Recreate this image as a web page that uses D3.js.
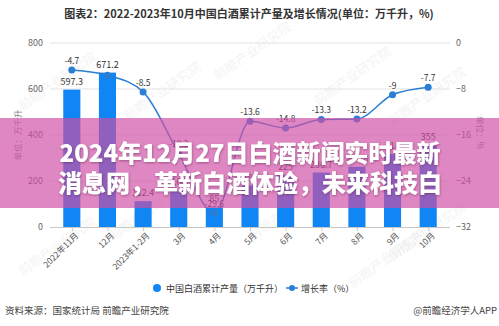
<!DOCTYPE html>
<html>
<head>
<meta charset="utf-8">
<script src="https://cdn.jsdelivr.net/npm/d3@7/dist/d3.min.js"></script>
<style>
  html, body { margin: 0; padding: 0; background: #fff; }
  svg { display: block; font-family: "Noto Sans CJK SC", "Noto Sans", sans-serif; }
</style>
</head>
<body>
<svg id="chart" width="499" height="326"></svg>
<script>
// Cumulative baijiu output (10k kL) and year-on-year growth (%)
const categories = ["2022年11月", "12月", "2023年1-2月", "3月", "4月", "5月", "6月", "7月", "8月", "9月", "10月"];
const output = [597.3, 671.2, 112.4, 160, 85, 180, 225, 236.7, 261.8, 318, 355];
const growth = [-4.7, -5.6, -8.5, -19.2, -29.6, -13.6, -14.8, -13.3, -13.2, -9, -7.7];
const leftTicks = [0, 200, 400, 600, 800];
const rightTicks = [-32, -24, -16, -8, 0];

const title = "图表2：2022-2023年10月中国白酒累计产量及增长情况(单位：万千升，%)";
const headline = ["2024年12月27日白酒新闻实时最新", "消息网，革新白酒体验，未来科技白"];

const svg = d3.select("#chart");
const W = 499, H = 326;
const plot = { left: 54, right: 446, top: 43, bottom: 227 };

const x = d3.scalePoint().domain(categories).range([plot.left, plot.right]).padding(0.5);
const barW = x.step() * 0.48;
const yL = d3.scaleLinear().domain([0, 800]).range([plot.bottom, plot.top]);
const yR = d3.scaleLinear().domain([-32, 0]).range([plot.bottom, plot.top]);

const barColor = "#0f86f3";
const lineColor = "#2a7fd4";

// Title
svg.append("text").attr("x", 249).attr("y", 18).attr("text-anchor", "middle")
  .attr("font-size", 11).attr("font-weight", 700).attr("fill", "#333").text(title);

// Faint diagonal watermarks
const wm = [[60, 85], [165, 95], [255, 55], [355, 80], [430, 100], [60, 250], [150, 215], [290, 215], [430, 235], [390, 262]];
wm.forEach(([wx, wy]) => {
  svg.append("text").attr("transform", `translate(${wx},${wy}) rotate(-35)`)
    .attr("text-anchor", "middle").attr("font-size", 13).attr("font-weight", 700)
    .attr("fill", "#000").attr("opacity", 0.035).text("前瞻产业研究院");
});

// Horizontal grid
const grid = svg.append("g");
leftTicks.filter(d => d > 0).forEach(t => {
  grid.append("line").attr("x1", 50).attr("x2", 450).attr("y1", yL(t)).attr("y2", yL(t))
    .attr("stroke", "#e3e3e3").attr("stroke-width", 1);
});

// Left axis
const axL = svg.append("g").attr("transform", `translate(50,0)`)
  .call(d3.axisLeft(yL).tickValues(leftTicks).tickSize(0).tickPadding(7));
axL.select(".domain").remove();
axL.selectAll("text").attr("font-size", 9).attr("fill", "#666").attr("font-family", "Noto Sans CJK SC, sans-serif");

// Right axis
const axR = svg.append("g").attr("transform", `translate(450,0)`)
  .call(d3.axisRight(yR).tickValues(rightTicks).tickSize(0).tickPadding(6));
axR.select(".domain").remove();
axR.selectAll("text").attr("font-size", 9).attr("fill", "#666").attr("font-family", "Noto Sans CJK SC, sans-serif");

// Axis titles
svg.append("text").attr("transform", `translate(21,135) rotate(-90)`).attr("text-anchor", "middle")
  .attr("font-size", 8.5).attr("fill", "#888").text("单位：万千升");
svg.append("text").attr("transform", `translate(477,133) rotate(90)`).attr("text-anchor", "middle")
  .attr("font-size", 8.5).attr("fill", "#888").text("单位：%");

// Bars
svg.append("g").selectAll("rect").data(output).join("rect")
  .attr("x", (d, i) => x(categories[i]) - barW / 2)
  .attr("y", d => yL(d))
  .attr("width", barW)
  .attr("height", d => yL(0) - yL(d))
  .attr("fill", barColor);

// Bottom axis
const axB = svg.append("g").attr("transform", `translate(0,${plot.bottom})`)
  .call(d3.axisBottom(x).tickSize(4).tickPadding(3));
axB.select(".domain").attr("d", `M50,0.5H450`).attr("stroke", "#c8c8c8");
axB.selectAll(".tick line").attr("stroke", "#c8c8c8");
axB.selectAll("text").attr("font-size", 8.5).attr("fill", "#555")
  .attr("font-family", "Noto Sans CJK SC, sans-serif")
  .attr("text-anchor", "end").attr("dx", "-0.2em").attr("dy", "0.5em")
  .attr("transform", "rotate(-45)");

// Bar value labels
svg.append("g").selectAll("text").data(output).join("text")
  .attr("x", (d, i) => x(categories[i]))
  .attr("y", d => yL(d) - 5)
  .attr("text-anchor", "middle").attr("font-size", 9).attr("fill", "#333")
  .text(d => d);

// Growth line
const line = d3.line()
  .x((d, i) => x(categories[i]))
  .y(d => yR(d))
  .curve(d3.curveMonotoneX);
svg.append("path").datum(growth).attr("d", line)
  .attr("fill", "none").attr("stroke", lineColor).attr("stroke-width", 1.5);
svg.append("g").selectAll("circle").data(growth).join("circle")
  .attr("cx", (d, i) => x(categories[i])).attr("cy", d => yR(d)).attr("r", 3.5)
  .attr("fill", lineColor);

// Growth labels (December's sits under the bar label and is left out)
const growthIdx = d3.range(growth.length).filter(i => i !== 1);
svg.append("g").selectAll("text").data(growthIdx).join("text")
  .attr("x", i => x(categories[i]))
  .attr("y", i => yR(growth[i]) - 6)
  .attr("text-anchor", "middle").attr("font-size", 8.5).attr("fill", "#333")
  .text(i => growth[i]);

// Legend
const lg = svg.append("g").attr("font-size", 9).attr("fill", "#333");
lg.append("circle").attr("cx", 157).attr("cy", 288).attr("r", 4).attr("fill", barColor);
lg.append("text").attr("x", 166).attr("y", 291.5).text("中国白酒累计产量（万千升）");
lg.append("line").attr("x1", 286).attr("x2", 298).attr("y1", 288).attr("y2", 288)
  .attr("stroke", lineColor).attr("stroke-width", 1.5);
lg.append("circle").attr("cx", 292).attr("cy", 288).attr("r", 3).attr("fill", lineColor);
lg.append("text").attr("x", 301).attr("y", 291.5).text("增长率（%）");

// Source line and credit
svg.append("text").attr("x", 5).attr("y", 314).attr("font-size", 9.5).attr("fill", "#444")
  .text("资料来源：国家统计局 前瞻产业研究院");
svg.append("text").attr("x", 497).attr("y", 314).attr("text-anchor", "end")
  .attr("font-size", 9.5).attr("fill", "#444").text("@前瞻经济学人APP");

// Headline banner across the middle
svg.append("rect").attr("x", 0).attr("y", 118).attr("width", W).attr("height", 90)
  .attr("fill", "rgb(208,78,165)").attr("opacity", 0.68);
const defs = svg.append("defs");
const f = defs.append("filter").attr("id", "shadow").attr("x", "-5%").attr("y", "-20%").attr("width", "110%").attr("height", "140%");
f.append("feDropShadow").attr("dx", 0.5).attr("dy", 1).attr("stdDeviation", 1.2)
  .attr("flood-color", "#5a1f48").attr("flood-opacity", 0.5);
headline.forEach((t, i) => {
  svg.append("text").attr("x", 250).attr("y", 162 + i * 30).attr("text-anchor", "middle")
    .attr("font-size", 24).attr("font-weight", 900).attr("fill", "#fff")
    .attr("filter", "url(#shadow)").text(t);
});
</script>
</body>
</html>
